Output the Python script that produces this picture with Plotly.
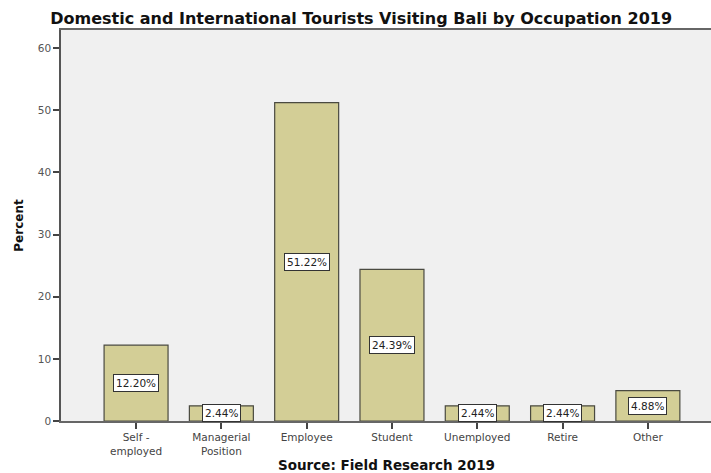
import plotly.graph_objects as go

# Occupation categories and share of surveyed tourists (%)
categories = ["Self -<br>employed", "Managerial<br>Position", "Employee", "Student",
              "Unemployed", "Retire", "Other"]
percent = [12.20, 2.44, 51.22, 24.39, 2.44, 2.44, 4.88]
y_ticks = [0, 10, 20, 30, 40, 50, 60]

WIDE = "DejaVu Sans, Arial, sans-serif"

fig = go.Figure()
fig.add_trace(go.Bar(
    x=categories,
    y=percent,
    width=0.75,
    marker=dict(color="#d3ce96", line=dict(color="#4a4a40", width=1.2)),
    hoverinfo="skip",
))

# Boxed value labels at the middle of each bar
for c, v in zip(categories, percent):
    fig.add_annotation(
        x=c, y=v / 2, text=f"{v:.2f}%", showarrow=False,
        font=dict(family=WIDE, size=10.5, color="#222"),
        bgcolor="white", bordercolor="#333", borderwidth=1, borderpad=2,
    )

# Source note under the axis
fig.add_annotation(
    text="<b>Source: Field Research 2019</b>", showarrow=False,
    xref="paper", yref="paper", x=0.5, y=-0.113, yanchor="middle",
    font=dict(family=WIDE, size=13.5, color="#111"),
)

fig.update_layout(
    width=711, height=473,
    margin=dict(l=61, r=0, t=30, b=52),
    paper_bgcolor="white",
    plot_bgcolor="#f0f0f0",
    showlegend=False,
    font=dict(family=WIDE),
    title=dict(
        text="<b>Domestic and International Tourists Visiting Bali by Occupation 2019</b>",
        x=0.508, xanchor="center", y=0.962, yanchor="middle",
        font=dict(family=WIDE, size=16, color="#111"),
    ),
    bargap=0.25,
)

fig.update_xaxes(
    range=[-0.88, 6.74],
    showline=True, linecolor="#666", linewidth=1.5, mirror=True,
    ticks="outside", ticklen=6, tickcolor="#444", tickwidth=1.5,
    tickfont=dict(family=WIDE, size=10.5, color="#444"),
    showgrid=False,
)

fig.update_yaxes(
    range=[0, 62.9],
    tickvals=y_ticks,
    showline=True, linecolor="#555", linewidth=1.5,
    ticks="outside", ticklen=6, tickcolor="#444", tickwidth=1.5,
    tickfont=dict(family=WIDE, size=10.5, color="#555"),
    showgrid=False, zeroline=False,
    title=dict(text="<b>Percent</b>", font=dict(family=WIDE, size=12, color="#111"),
               standoff=12),
)

fig.write_html("out.html")
